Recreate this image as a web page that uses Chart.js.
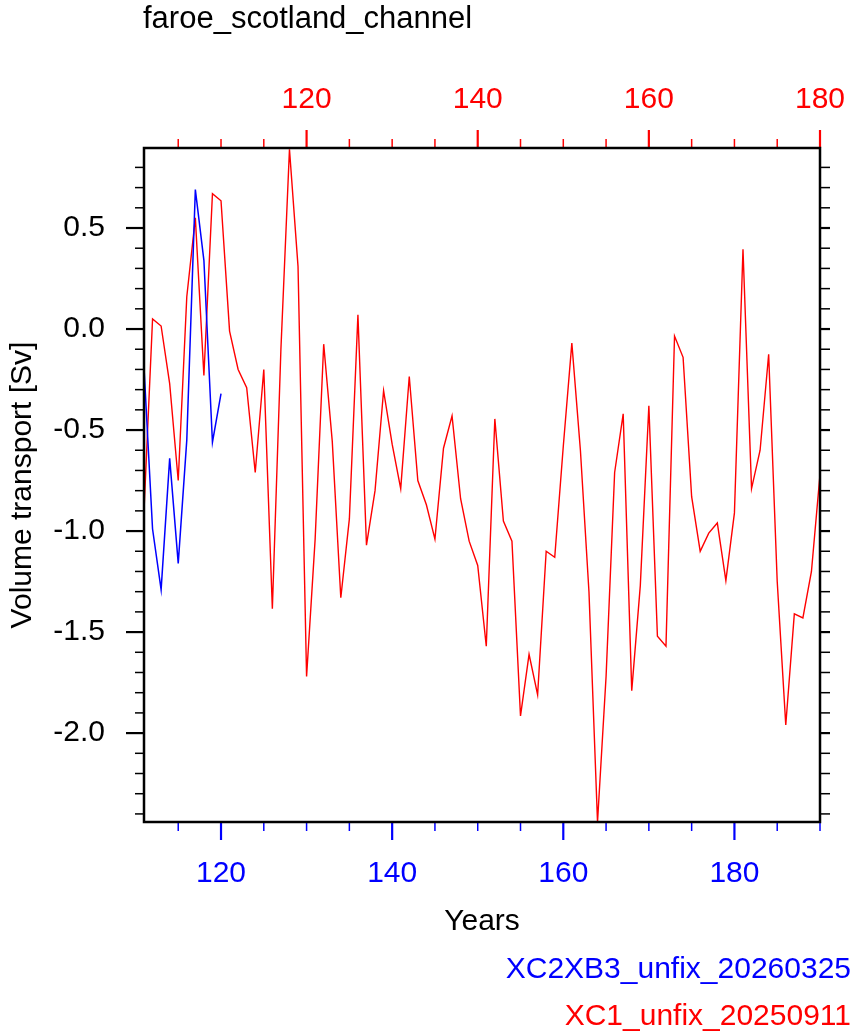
<!DOCTYPE html>
<html>
<head>
<meta charset="utf-8">
<script src="https://cdn.jsdelivr.net/npm/chart.js@4.4.1/dist/chart.umd.min.js"></script>
<style>
html,body{margin:0;padding:0;background:#ffffff;}
#wrap{width:858px;height:1035px;position:relative;}
canvas{display:block;}
</style>
</head>
<body>
<div id="wrap"><canvas id="c" width="858" height="1035"></canvas></div>
<script>
// ---- chart text ----
const chartTitle = 'faroe_scotland_channel';
const xAxisTitle = 'Years';
const yAxisTitle = 'Volume transport [Sv]';
const blueLabel = 'XC2XB3_unfix_20260325';
const redLabel = 'XC1_unfix_20250911';

// ---- data ----
const blueYears = [111,112,113,114,115,116,117,118,119,120];
const blueValues = [-0.19,-0.99,-1.29,-0.64,-1.16,-0.55,0.69,0.34,-0.56,-0.32];

const redYears = [101,102,103,104,105,106,107,108,109,110,
                  111,112,113,114,115,116,117,118,119,120,
                  121,122,123,124,125,126,127,128,129,130,
                  131,132,133,134,135,136,137,138,139,140,
                  141,142,143,144,145,146,147,148,149,150,
                  151,152,153,154,155,156,157,158,159,160,
                  161,162,163,164,165,166,167,168,169,170,
                  171,172,173,174,175,176,177,178,179,180];
const redValues = [-0.90,0.05,0.015,-0.27,-0.75,0.16,0.55,-0.23,0.67,0.635,
                   -0.01,-0.20,-0.29,-0.71,-0.20,-1.385,-0.10,0.89,0.31,-1.72,
                   -1.04,-0.075,-0.555,-1.33,-0.94,0.07,-1.07,-0.80,-0.305,-0.57,
                   -0.79,-0.235,-0.75,-0.87,-1.04,-0.59,-0.43,-0.84,-1.05,-1.17,
                   -1.57,-0.445,-0.95,-1.05,-1.915,-1.61,-1.81,-1.10,-1.13,-0.58,
                   -0.07,-0.60,-1.30,-2.44,-1.72,-0.71,-0.42,-1.79,-1.27,-0.38,
                   -1.52,-1.57,-0.035,-0.14,-0.83,-1.10,-1.01,-0.96,-1.245,-0.91,
                   0.395,-0.79,-0.60,-0.125,-1.25,-1.96,-1.41,-1.43,-1.20,-0.72];

// ---- tick labels ----
const bottomTickValues = [120,140,160,180];
const topTickValues = [120,140,160,180];
const yTickValues = [-2.0,-1.5,-1.0,-0.5,0.0,0.5];

// ---- axis ranges ----
const bottomRange = [111,190];
const topRange = [101,180];
const yRange = [-2.44,0.896];

const FONT = '"Liberation Sans", Arial, Helvetica, sans-serif';
const BLUE = '#0000ff';
const RED = '#ff0000';

const framePlugin = {
  id: 'frameTicks',
  afterDraw(chart) {
    const ctx = chart.ctx;
    const a = chart.chartArea;
    const sx = chart.scales.x, sx2 = chart.scales.x2, sy = chart.scales.y;
    ctx.save();
    ctx.lineCap = 'butt';
    // bottom ticks (blue), outward
    ctx.strokeStyle = BLUE;
    for (let v = 115; v <= bottomRange[1]; v += 5) {
      const major = bottomTickValues.includes(v);
      const px = sx.getPixelForValue(v);
      ctx.lineWidth = major ? 2.2 : 1.5;
      ctx.beginPath(); ctx.moveTo(px, a.bottom); ctx.lineTo(px, a.bottom + (major ? 18 : 9)); ctx.stroke();
    }
    // top ticks (red), outward
    ctx.strokeStyle = RED;
    for (let v = 105; v <= topRange[1]; v += 5) {
      const major = topTickValues.includes(v);
      const px = sx2.getPixelForValue(v);
      ctx.lineWidth = major ? 2.2 : 1.5;
      ctx.beginPath(); ctx.moveTo(px, a.top); ctx.lineTo(px, a.top - (major ? 18 : 9)); ctx.stroke();
    }
    // left/right ticks (black), outward
    ctx.strokeStyle = '#000000';
    for (let i = -24; i <= 8; i++) {
      const v = i / 10;
      const major = (i % 5 === 0);
      const py = sy.getPixelForValue(v);
      ctx.lineWidth = major ? 2.2 : 1.5;
      ctx.beginPath(); ctx.moveTo(a.left, py); ctx.lineTo(a.left - (major ? 18 : 9), py); ctx.stroke();
      ctx.beginPath(); ctx.moveTo(a.right, py); ctx.lineTo(a.right + 10, py); ctx.stroke();
    }
    // frame
    ctx.lineWidth = 2.5;
    ctx.strokeStyle = '#000000';
    ctx.strokeRect(a.left, a.top, a.right - a.left, a.bottom - a.top);

    // texts
    ctx.fillStyle = '#000000';
    ctx.font = '31px ' + FONT;
    ctx.textAlign = 'left';
    ctx.textBaseline = 'alphabetic';
    ctx.fillText(chartTitle, 143, 28);

    ctx.font = '30px ' + FONT;
    ctx.textAlign = 'center';
    ctx.fillText(xAxisTitle, (a.left + a.right) / 2, 930);

    ctx.save();
    ctx.translate(31, (a.top + a.bottom) / 2);
    ctx.rotate(-Math.PI / 2);
    ctx.textAlign = 'center';
    ctx.fillText(yAxisTitle, 0, 0);
    ctx.restore();

    ctx.textAlign = 'right';
    ctx.fillStyle = BLUE;
    ctx.fillText(blueLabel, 851, 978);
    ctx.fillStyle = RED;
    ctx.fillText(redLabel, 851, 1025);
    ctx.restore();
  }
};

const tickFont = {family: FONT, size: 30};
const noPad = s => { s.paddingLeft = 0; s.paddingRight = 0; s.paddingTop = 0; s.paddingBottom = 0; };

new Chart(document.getElementById('c').getContext('2d'), {
  type: 'line',
  data: {
    datasets: [
      {
        label: blueLabel,
        data: blueYears.map((x, i) => ({x: x, y: blueValues[i]})),
        xAxisID: 'x', yAxisID: 'y',
        borderColor: BLUE, borderWidth: 1.5,
        pointRadius: 0, tension: 0, fill: false
      },
      {
        label: redLabel,
        data: redYears.map((x, i) => ({x: x, y: redValues[i]})),
        xAxisID: 'x2', yAxisID: 'y',
        borderColor: RED, borderWidth: 1.4,
        pointRadius: 0, tension: 0, fill: false
      }
    ]
  },
  options: {
    responsive: false,
    animation: false,
    devicePixelRatio: 1,
    layout: {padding: 0},
    plugins: {legend: {display: false}, title: {display: false}, tooltip: {enabled: false}},
    scales: {
      x: {
        type: 'linear', position: 'bottom', min: bottomRange[0], max: bottomRange[1],
        afterBuildTicks: s => { s.ticks = bottomTickValues.map(v => ({value: v})); },
        afterFit: s => { s.height = 213; noPad(s); },
        grid: {display: false, drawTicks: false}, border: {display: false},
        ticks: {color: BLUE, font: tickFont, padding: 34, maxRotation: 0, autoSkip: false, callback: v => String(v)}
      },
      x2: {
        type: 'linear', position: 'top', min: topRange[0], max: topRange[1],
        afterBuildTicks: s => { s.ticks = topTickValues.map(v => ({value: v})); },
        afterFit: s => { s.height = 148; noPad(s); },
        grid: {display: false, drawTicks: false}, border: {display: false},
        ticks: {color: RED, font: tickFont, padding: 30, maxRotation: 0, autoSkip: false, callback: v => String(v)}
      },
      y: {
        type: 'linear', position: 'left', min: yRange[0], max: yRange[1],
        afterBuildTicks: s => { s.ticks = yTickValues.map(v => ({value: v})); },
        afterFit: s => { s.width = 144; noPad(s); },
        grid: {display: false, drawTicks: false}, border: {display: false},
        ticks: {color: '#000000', font: tickFont, padding: 39, autoSkip: false, callback: v => Number(v).toFixed(1)}
      },
      y2: {
        type: 'linear', position: 'right', min: yRange[0], max: yRange[1],
        afterFit: s => { s.width = 38; noPad(s); },
        grid: {display: false, drawTicks: false}, border: {display: false},
        ticks: {display: false}
      }
    }
  },
  plugins: [framePlugin]
});
</script>
</body>
</html>
